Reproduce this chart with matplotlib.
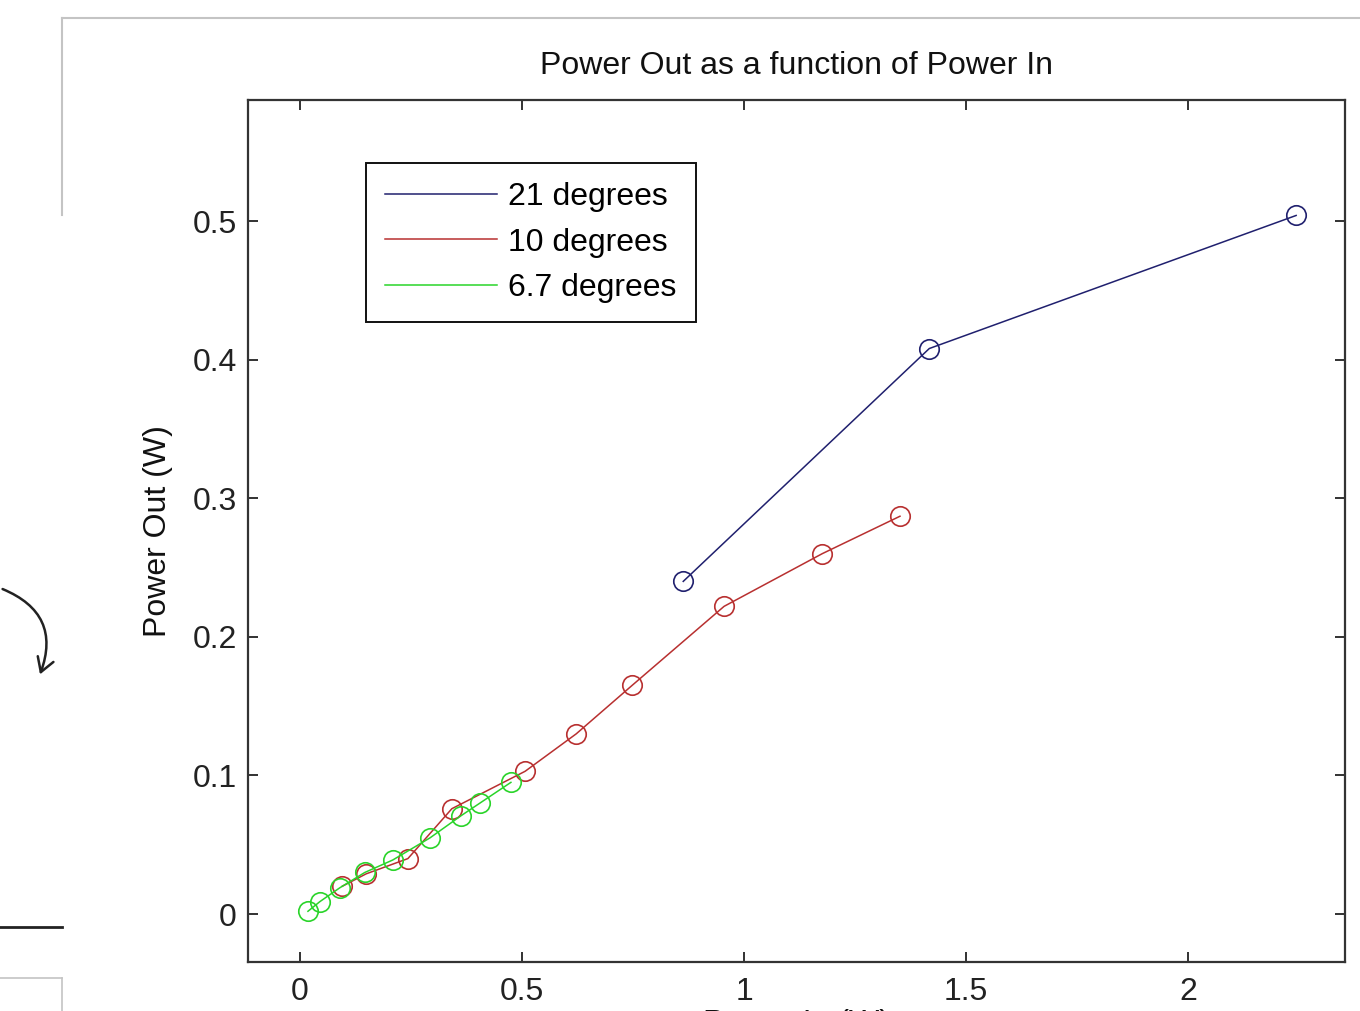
import matplotlib
matplotlib.use("Agg")
import matplotlib.pyplot as plt
from matplotlib.lines import Line2D
from matplotlib.patches import FancyArrowPatch

# Power in (W) / power out (W)
p_in_21 = [0.863, 1.417, 2.243]
p_out_21 = [0.240, 0.408, 0.504]

p_in_10 = [0.095, 0.149, 0.243, 0.342, 0.507, 0.622, 0.748, 0.955, 1.176, 1.351]
p_out_10 = [0.020, 0.029, 0.040, 0.076, 0.103, 0.130, 0.165, 0.222, 0.260, 0.287]

p_in_67 = [0.018, 0.045, 0.090, 0.146, 0.209, 0.293, 0.363, 0.405, 0.475]
p_out_67 = [0.002, 0.009, 0.019, 0.030, 0.039, 0.055, 0.071, 0.080, 0.095]

labels = ["21 degrees", "10 degrees", "6.7 degrees"]
colors = ["#20206e", "#b83030", "#2ad42a"]
x_ticks = [0, 0.5, 1, 1.5, 2]
y_ticks = [0, 0.1, 0.2, 0.3, 0.4, 0.5]

plt.rcParams["font.family"] = ["Liberation Sans", "DejaVu Sans"]

W, H = 1360, 1011
fig = plt.figure(figsize=(W / 100, H / 100), dpi=100)
ax = fig.add_axes([248 / W, 1 - 962 / H, (1345 - 248) / W, (962 - 100) / H])

series = [(p_in_21, p_out_21), (p_in_10, p_out_10), (p_in_67, p_out_67)]
for (xs, ys), c in zip(series, colors):
    ax.plot(xs, ys, color=c, linewidth=1.1, marker="o", markersize=14,
            markerfacecolor="none", markeredgecolor=c, markeredgewidth=1.2)

ax.set_xlim(-0.117, 2.353)
ax.set_ylim(-0.0346, 0.5873)
ax.set_xticks(x_ticks)
ax.set_xticklabels([f"{v:g}" for v in x_ticks])
ax.set_yticks(y_ticks)
ax.set_yticklabels([f"{v:g}" for v in y_ticks])
ax.tick_params(direction="in", length=7, width=1.3, labelsize=23,
               top=True, right=True, colors="#222222")
ax.tick_params(axis="x", pad=11)
ax.tick_params(axis="y", pad=8)
for sp in ax.spines.values():
    sp.set_linewidth(1.6)
    sp.set_color("#333333")

ax.set_title("Power Out as a function of Power In", fontsize=23, pad=19,
             color="#111111")
ax.set_ylabel("Power Out (W)", fontsize=23, labelpad=14, color="#111111")
ax.set_xlabel("Power In (W)", fontsize=23, labelpad=1, color="#111111")

handles = [Line2D([0], [0], color=c, linewidth=1.1) for c in colors]
leg = ax.legend(handles, labels, loc="upper left",
                bbox_to_anchor=((366 - 248) / 1097, (962 - 163) / 862),
                borderaxespad=0, fontsize=23, handlelength=3.5,
                handletextpad=0.35, labelspacing=0.48, borderpad=0.6,
                fancybox=False, framealpha=1, edgecolor="#111111")
leg.get_frame().set_linewidth(1.4)

# bits of the surrounding page that show in the screenshot
def px(x, y):
    return x / W, 1 - y / H

grey = "#c4c4c4"
for (x0, y0), (x1, y1), c, lw in [
    ((62, 18), (1360, 18), grey, 1.5),
    ((62, 18), (62, 215), grey, 1.5),
    ((0, 927), (62, 927), "#222222", 2.0),
    ((0, 978), (62, 978), grey, 1.2),
    ((62, 978), (62, 1011), grey, 1.2),
]:
    a, b = px(x0, y0)
    c2, d = px(x1, y1)
    fig.add_artist(Line2D([a, c2], [b, d], color=c, linewidth=lw,
                          transform=fig.transFigure))

arrow = FancyArrowPatch(px(0, 588), px(39, 677), transform=fig.transFigure,
                        connectionstyle="arc3,rad=-0.5",
                        arrowstyle="->,head_length=10,head_width=6",
                        color="#222222", linewidth=1.8)
fig.add_artist(arrow)

fig.savefig("out.png", dpi=100)
plt.close(fig)
